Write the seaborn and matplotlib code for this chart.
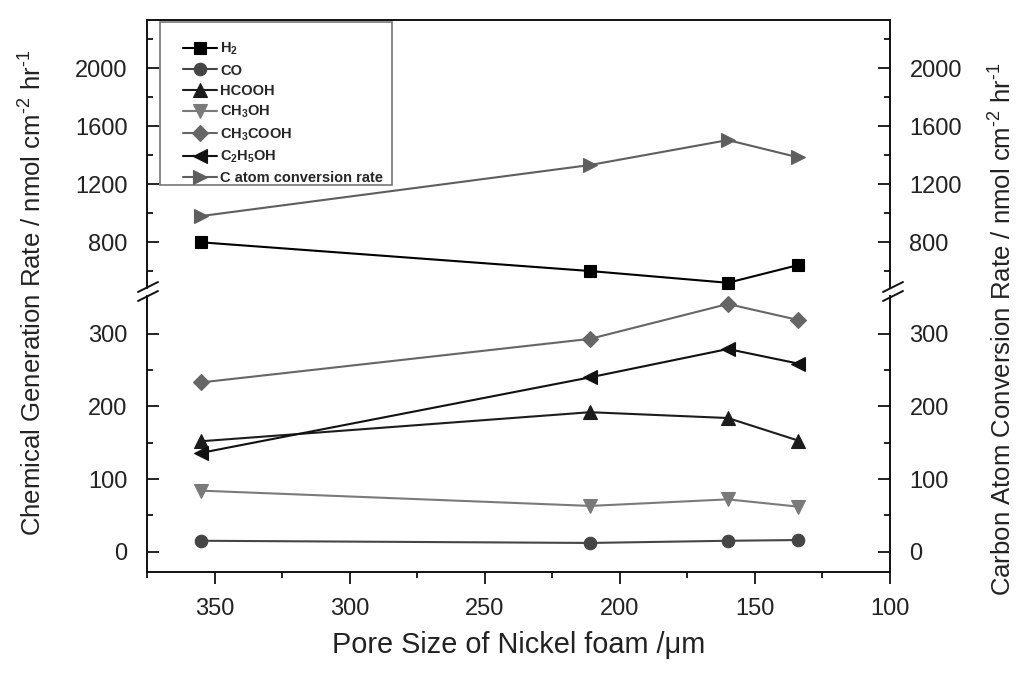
import matplotlib
matplotlib.use("Agg")
import matplotlib.pyplot as plt
import seaborn as sns
import pandas as pd
from matplotlib.lines import Line2D
from matplotlib.patches import Rectangle
from matplotlib.ticker import FixedLocator, MultipleLocator

# ---- data -------------------------------------------------------------
pore_size = [355, 211, 160, 134]          # µm
h2 = [800, 602, 521, 643]
co = [15, 12, 15, 16]
hcooh = [152, 192, 184, 153]
ch3oh = [84, 63, 72, 62]
ch3cooh = [233, 293, 341, 319]
c2h5oh = [136, 240, 279, 259]
c_atom_rate = [981, 1333, 1505, 1386]

series_names = ["H$_2$", "CO", "HCOOH", "CH$_3$OH", "CH$_3$COOH",
                "C$_2$H$_5$OH", "C atom conversion rate"]
series_values = [h2, co, hcooh, ch3oh, ch3cooh, c2h5oh, c_atom_rate]
upper_series = {"H$_2$", "C atom conversion rate"}

x_ticks = [350, 300, 250, 200, 150, 100]
upper_ticks = [800, 1200, 1600, 2000]
lower_ticks = [0, 100, 200, 300]

# ---- style ------------------------------------------------------------
sns.set_style("ticks")
plt.rcParams["font.family"] = ["Liberation Sans", "DejaVu Sans"]
plt.rcParams["mathtext.fontset"] = "custom"
plt.rcParams["mathtext.rm"] = "Liberation Sans"
plt.rcParams["mathtext.default"] = "regular"

styles = {
    "H$_2$": dict(color="#000000", marker="s", markersize=8.5),
    "CO": dict(color="#454545", marker="o", markersize=9),
    "HCOOH": dict(color="#1c1c1c", marker="^", markersize=9.5),
    "CH$_3$OH": dict(color="#7a7a7a", marker="v", markersize=9.5),
    "CH$_3$COOH": dict(color="#666666", marker="D", markersize=8),
    "C$_2$H$_5$OH": dict(color="#111111", marker="<", markersize=9.5),
    "C atom conversion rate": dict(color="#5e5e5e", marker=">", markersize=9.5),
}

W, H = 1023, 673
fig = plt.figure(figsize=(W / 100, H / 100), dpi=100)

left, right = 147, 890
ax_hi = fig.add_axes([left / W, 1 - 288 / H, (right - left) / W, (288 - 20) / H])
ax_lo = fig.add_axes([left / W, 1 - 572 / H, (right - left) / W, (572 - 296) / H],
                     sharex=ax_hi)

handles = {}
for name, vals in zip(series_names, series_values):
    ax = ax_hi if name in upper_series else ax_lo
    st = styles[name]
    df = pd.DataFrame({"pore": pore_size, "rate": vals})
    sns.lineplot(data=df, x="pore", y="rate", ax=ax, sort=False, estimator=None,
                 color=st["color"], marker=st["marker"], markersize=st["markersize"],
                 markeredgecolor=st["color"], markeredgewidth=0.8,
                 linewidth=1.5, clip_on=False, label=name)
    handles[name] = ax.get_lines()[-1]

for ax in (ax_hi, ax_lo):
    leg = ax.get_legend()
    if leg is not None:
        leg.remove()
    ax.set_xlabel("")
    ax.set_ylabel("")
    for sp in ax.spines.values():
        sp.set_linewidth(1.4)
        sp.set_color("#111111")
        sp.set_visible(True)
    ax.tick_params(axis="y", which="both", direction="in", left=True, right=True,
                   labelleft=True, labelright=True, labelsize=17, pad=14,
                   colors="#111111", labelcolor="#222222")
    ax.tick_params(axis="y", which="major", length=8.5, width=1.3)
    ax.tick_params(axis="y", which="minor", length=4.5, width=1.3)

ax_hi.set_xlim(375, 100)
ax_hi.set_ylim(485, 2333)
ax_lo.set_ylim(-28, 352)

ax_hi.yaxis.set_major_locator(FixedLocator(upper_ticks))
ax_hi.yaxis.set_minor_locator(FixedLocator([600, 1000, 1400, 1800, 2200]))
ax_lo.yaxis.set_major_locator(FixedLocator(lower_ticks))
ax_lo.yaxis.set_minor_locator(FixedLocator([50, 150, 250]))

ax_hi.spines["bottom"].set_visible(False)
ax_lo.spines["top"].set_visible(False)
ax_hi.tick_params(axis="x", which="both", bottom=False, top=False, labelbottom=False)

ax_lo.xaxis.set_major_locator(FixedLocator(x_ticks))
ax_lo.xaxis.set_minor_locator(MultipleLocator(25))
ax_lo.tick_params(axis="x", which="both", direction="out", top=False, bottom=True,
                  labelsize=17, pad=10, colors="#111111", labelcolor="#222222")
ax_lo.tick_params(axis="x", which="major", length=8.5, width=1.3)
ax_lo.tick_params(axis="x", which="minor", length=4.5, width=1.3)
ax_lo.set_xlabel("Pore Size of Nickel foam /μm", fontsize=20.8, labelpad=8,
                 color="#222222")

# break marks on both vertical axes
for xs in (left, right + 2):
    for y0 in (292, 301):
        fig.add_artist(Line2D([(xs - 9) / W, (xs + 11) / W],
                              [1 - y0 / H, 1 - (y0 - 10) / H],
                              transform=fig.transFigure, color="#111111", lw=1.4))

# axis titles
sup2 = r"$^{\text{-}2}$"
sup1 = r"$^{\text{-}1}$"
fig.text(33 / W, 1 - 293 / H, "Chemical Generation Rate / nmol cm" + sup2 + " hr" + sup1,
         rotation=90, ha="center", va="center", fontsize=18.5, color="#222222")
fig.text(1003 / W, 1 - 329 / H, "Carbon Atom Conversion Rate / nmol cm" + sup2 + " hr" + sup1,
         rotation=90, ha="center", va="center", fontsize=18.5, color="#222222")

# legend
fig.add_artist(Rectangle((160 / W, 1 - 185 / H), 232 / W, 163 / H,
                         transform=fig.transFigure, fill=False,
                         edgecolor="#777777", lw=1.2))
fig.legend([handles[n] for n in series_names], series_names,
           loc="upper left", bbox_to_anchor=(183 / W, 1 - 41 / H),
           bbox_transform=fig.transFigure, frameon=False, borderpad=0,
           borderaxespad=0, handlelength=2.3, handletextpad=0.25,
           labelspacing=0.42, markerscale=1.0,
           prop={"size": 10.5, "weight": "bold"})

fig.savefig("out.png", dpi=100)
